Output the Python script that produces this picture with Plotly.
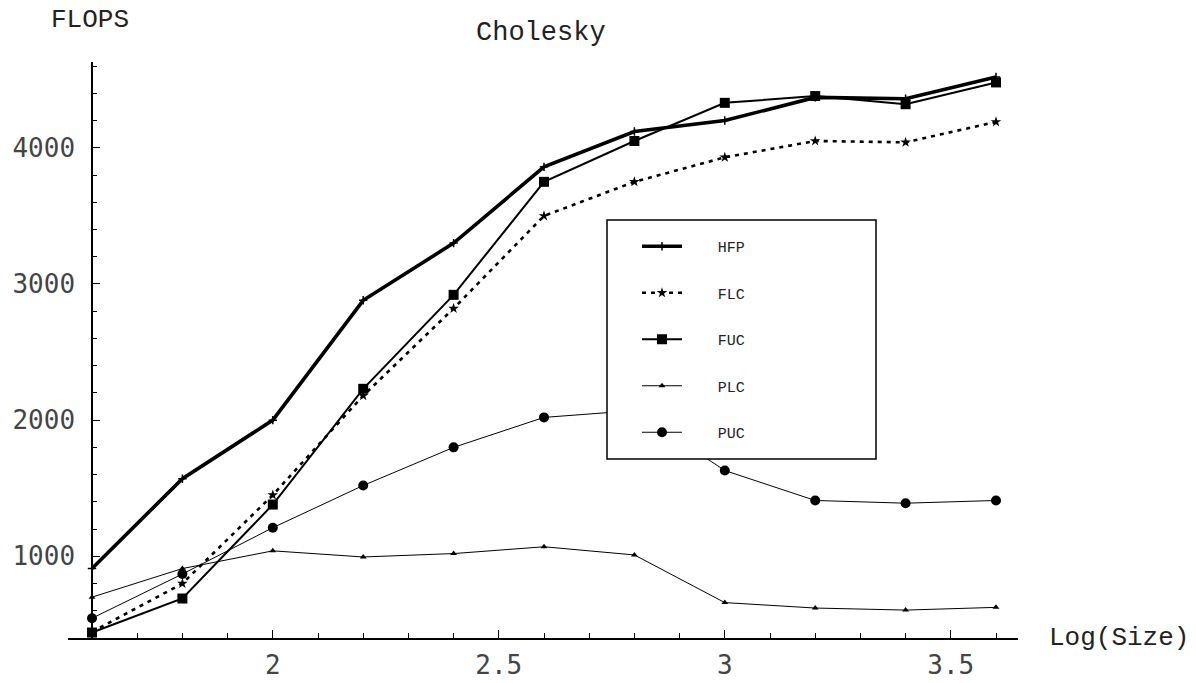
import plotly.graph_objects as go

# ---- data ----
log_size = [1.6, 1.8, 2.0, 2.2, 2.4, 2.6, 2.8, 3.0, 3.2, 3.4, 3.6]
hfp = [910, 1570, 2000, 2880, 3300, 3860, 4120, 4200, 4370, 4360, 4520]
flc = [445, 800, 1450, 2180, 2820, 3500, 3750, 3930, 4050, 4040, 4190]
fuc = [440, 690, 1380, 2230, 2920, 3750, 4050, 4330, 4380, 4320, 4480]
plc = [700, 910, 1040, 995, 1020, 1070, 1010, 660, 620, 605, 625]
puc = [545, 870, 1210, 1520, 1800, 2020, 2070, 1630, 1410, 1390, 1410]
series_names = ["HFP", "FLC", "FUC", "PLC", "PUC"]

# ---- layout geometry (pixels) ----
W, H = 1196, 683
L, R, T, B = 68, 1018, 62, 638
XR = [1.6 - 24 / 452, 1.6 + 926 / 452]
YR = [400, 4630]


def px_x(p):
    return (p - L) / (R - L)


def px_y(p):
    return (B - p) / (B - T)


MONO = "Liberation Mono, Courier New, monospace"
NUM = "DejaVu Sans Mono, monospace"
PAD = "\u00a0" * 3 + "\u2005"

styles = [
    dict(line=dict(color="black", width=3.6),
         marker=dict(symbol="cross-thin", size=6, line=dict(width=1.5, color="black"))),
    dict(line=dict(color="black", width=2.6, dash="4px,5px"),
         marker=dict(symbol="star", size=8, color="black")),
    dict(line=dict(color="black", width=2.0),
         marker=dict(symbol="square", size=10, color="black")),
    dict(line=dict(color="black", width=1.0),
         marker=dict(symbol="triangle-up", size=6, color="black")),
    dict(line=dict(color="black", width=1.0),
         marker=dict(symbol="circle", size=10, color="black")),
]

fig = go.Figure()
for name, ys, st in zip(series_names, [hfp, flc, fuc, plc, puc], styles):
    fig.add_trace(go.Scatter(
        x=log_size, y=ys, mode="lines+markers", name=PAD + name,
        legendgroup=name, line=st["line"], marker=st["marker"],
    ))

# legend frame (white box covering lines beneath)
fig.add_shape(type="rect", xref="paper", yref="paper",
              x0=px_x(607), x1=px_x(876), y0=px_y(459), y1=px_y(220),
              line=dict(color="black", width=1.5), fillcolor="white", layer="above")

fig.update_layout(
    width=W, height=H,
    margin=dict(l=L, r=W - R, t=T, b=H - B, pad=0, autoexpand=False),
    paper_bgcolor="white", plot_bgcolor="white",
    showlegend=True,
    legend=dict(
        x=px_x(637), y=px_y(230), xanchor="left", yanchor="top",
        bgcolor="rgba(0,0,0,0)", borderwidth=0,
        font=dict(family=MONO, size=15, color="#222"),
        tracegroupgap=24, itemwidth=40,
    ),
    xaxis=dict(
        range=XR, showgrid=False, zeroline=False, automargin=False,
        showline=True, linecolor="black", linewidth=1.5,
        ticks="inside", ticklen=8, tickwidth=1, tickcolor="black",
        tick0=2, dtick=0.5,
        minor=dict(dtick=0.1, tick0=1.6, ticks="inside", ticklen=5,
                   tickwidth=1, tickcolor="black"),
        tickfont=dict(family=NUM, size=26, color="#444"),
        ticklabelstandoff=3,
    ),
    yaxis=dict(
        range=YR, showgrid=False, zeroline=False, automargin=False,
        anchor="free", position=(1.6 - XR[0]) / (XR[1] - XR[0]),
        showline=True, linecolor="black", linewidth=1.5,
        ticks="inside", ticklen=7, tickwidth=1, tickcolor="black",
        tick0=0, dtick=1000,
        minor=dict(dtick=200, tick0=0, ticks="inside", ticklen=4,
                   tickwidth=1, tickcolor="black"),
        tickfont=dict(family=NUM, size=26, color="#444"),
        ticklabelstandoff=11,
    ),
    annotations=[
        dict(text="Cholesky", xref="paper", yref="paper", x=px_x(541), y=px_y(33),
             xanchor="center", yanchor="middle", showarrow=False,
             font=dict(family=MONO, size=27, color="#222")),
        dict(text="FLOPS", xref="paper", yref="paper", x=px_x(90), y=px_y(20),
             xanchor="center", yanchor="middle", showarrow=False,
             font=dict(family=MONO, size=26, color="#222")),
        dict(text="Log(Size)", xref="paper", yref="paper", x=px_x(1047), y=px_y(638),
             xanchor="left", yanchor="middle", showarrow=False,
             font=dict(family=MONO, size=26, color="#222")),
    ],
)

fig.write_html("out.html", config={"displayModeBar": False},
               post_script="document.body.style.margin='0';document.body.style.padding='0';")
